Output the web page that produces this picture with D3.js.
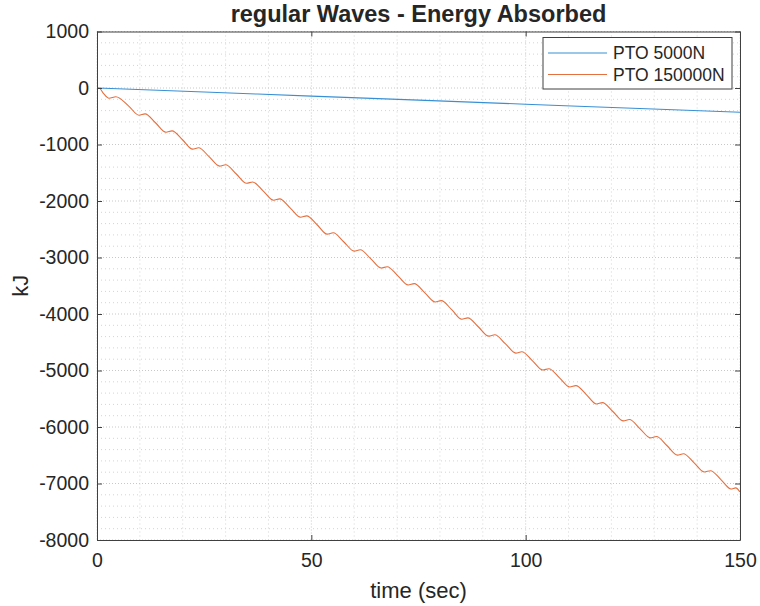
<!DOCTYPE html>
<html>
<head>
<meta charset="utf-8">
<script src="https://cdn.jsdelivr.net/npm/d3@7"></script>
<style>
  body { margin: 0; background: #fff; }
  text { font-family: "Liberation Sans", Arial, sans-serif; fill: #262626; }
</style>
</head>
<body>
<div class="chart"></div>
<script>
// blue series: PTO 5000N  [time, kJ]
const pto5000 = [
  [0, 0], [25, -72], [50, -143], [75, -215], [100, -287], [125, -358], [150, -430]
]

const pto150000 = [
  [0, 0], [0.6, -5], [1.5, -95], [2.8, -182], [4.4, -155], [7.4, -320],
  [9.8, -482], [11.2, -458], [13.7, -620],
  [16.1, -782], [17.5, -758], [20.0, -920],
  [22.3, -1082], [23.7, -1058], [26.2, -1220],
  [28.6, -1382], [30.0, -1358], [32.5, -1522],
  [34.9, -1687], [36.3, -1663], [38.8, -1825],
  [41.2, -1987], [42.6, -1963], [45.1, -2125],
  [47.5, -2287], [48.9, -2263], [51.4, -2425],
  [53.7, -2587], [55.1, -2563], [57.6, -2725],
  [60.0, -2887], [61.4, -2863], [63.9, -3025],
  [66.3, -3187], [67.7, -3163], [70.2, -3325],
  [72.6, -3487], [74.0, -3463], [76.5, -3627],
  [78.9, -3787], [80.3, -3763], [82.8, -3928],
  [85.1, -4092], [86.5, -4068], [89.0, -4230],
  [91.4, -4392], [92.8, -4368], [95.3, -4530],
  [97.7, -4692], [99.1, -4668], [101.6, -4830],
  [104.0, -4992], [105.4, -4968], [107.9, -5130],
  [110.3, -5292], [111.7, -5268], [114.2, -5430],
  [116.5, -5592], [117.9, -5568], [120.4, -5730],
  [122.8, -5892], [124.2, -5868], [126.7, -6032],
  [129.1, -6192], [130.5, -6168], [133.0, -6332],
  [135.4, -6497], [136.8, -6473], [139.3, -6635],
  [141.7, -6797], [143.1, -6773], [145.6, -6935],
  [147.9, -7097], [149.0, -7078], [150, -7150]
]

const seriesNames = ['PTO 5000N', 'PTO 150000N']
const xTicks = [0, 50, 100, 150]
const yTicks = [1000, 0, -1000, -2000, -3000, -4000, -5000, -6000, -7000, -8000]

const width = 760
const height = 606
const margin = {top: 31.5, right: 20, bottom: 66, left: 97}
const colors = ['#3890d4', '#e4703f']

const svg = d3.select('.chart').append('svg')
  .attr('width', width)
  .attr('height', height)

const x = d3.scaleLinear().domain([0, 150]).range([margin.left, width - margin.right])
const y = d3.scaleLinear().domain([-8000, 1000]).range([height - margin.bottom, margin.top])

const g = svg.append('g')

// minor grid
g.selectAll('.gx-minor')
  .data(d3.range(0, 151, 10).filter(d => d % 50 !== 0))
  .enter().append('line')
  .attr('x1', d => x(d)).attr('x2', d => x(d))
  .attr('y1', y(1000)).attr('y2', y(-8000))
  .attr('stroke', '#d4d4d4').attr('stroke-dasharray', '1,3')

g.selectAll('.gy-minor')
  .data(d3.range(-8000, 1001, 200).filter(d => d % 1000 !== 0))
  .enter().append('line')
  .attr('x1', x(0)).attr('x2', x(150))
  .attr('y1', d => y(d)).attr('y2', d => y(d))
  .attr('stroke', '#d4d4d4').attr('stroke-dasharray', '1,3')

// major grid
g.selectAll('.gx')
  .data(xTicks)
  .enter().append('line')
  .attr('x1', d => x(d)).attr('x2', d => x(d))
  .attr('y1', y(1000)).attr('y2', y(-8000))
  .attr('stroke', '#c8c8c8').attr('stroke-dasharray', '1,2')

g.selectAll('.gy')
  .data(yTicks)
  .enter().append('line')
  .attr('x1', x(0)).attr('x2', x(150))
  .attr('y1', d => y(d)).attr('y2', d => y(d))
  .attr('stroke', '#c8c8c8').attr('stroke-dasharray', '1,2')

// lines
const line = d3.line()
  .x(d => x(d[0]))
  .y(d => y(d[1]))
  .curve(d3.curveMonotoneX)

svg.append('path')
  .datum(pto5000)
  .attr('d', line)
  .attr('fill', 'none')
  .attr('stroke', colors[0])
  .attr('stroke-width', 1.1)

svg.append('path')
  .datum(pto150000)
  .attr('d', line)
  .attr('fill', 'none')
  .attr('stroke', colors[1])
  .attr('stroke-width', 1.1)

// axes (ticks inward, box on)
const axisColor = '#404040'
const fmt = d => String(d)
const xAxis = svg.append('g')
  .attr('transform', `translate(0, ${y(-8000)})`)
  .call(d3.axisBottom(x).tickValues(xTicks).tickFormat(fmt).tickSizeInner(-5).tickSizeOuter(0).tickPadding(13))
const xTop = svg.append('g')
  .attr('transform', `translate(0, ${y(1000)})`)
  .call(d3.axisTop(x).tickValues(xTicks).tickSizeInner(-5).tickSizeOuter(0).tickFormat(''))
const yAxis = svg.append('g')
  .attr('transform', `translate(${x(0)}, 0)`)
  .call(d3.axisLeft(y).tickValues(yTicks).tickFormat(fmt).tickSizeInner(-5).tickSizeOuter(0).tickPadding(8))
const yRight = svg.append('g')
  .attr('transform', `translate(${x(150)}, 0)`)
  .call(d3.axisRight(y).tickValues(yTicks).tickSizeInner(-5).tickSizeOuter(0).tickFormat(''))

for (const a of [xAxis, xTop, yAxis, yRight]) {
  a.select('.domain').attr('stroke', axisColor)
  a.selectAll('.tick line').attr('stroke', axisColor)
  a.selectAll('.tick text')
    .attr('font-size', '19.5px')
    .attr('font-family', '"Liberation Sans", Arial, sans-serif')
    .attr('fill', '#262626')
}

// labels
svg.append('text')
  .attr('x', (x(0) + x(150)) / 2)
  .attr('y', 22)
  .attr('text-anchor', 'middle')
  .attr('font-size', '23.5px')
  .attr('font-weight', 'bold')
  .attr('fill', '#000')
  .text('regular Waves - Energy Absorbed')

svg.append('text')
  .attr('x', (x(0) + x(150)) / 2)
  .attr('y', 598)
  .attr('text-anchor', 'middle')
  .attr('font-size', '22px')
  .text('time (sec)')

svg.append('text')
  .attr('transform', `translate(28, ${(y(1000) + y(-8000)) / 2}) rotate(-90)`)
  .attr('text-anchor', 'middle')
  .attr('font-size', '22px')
  .text('kJ')

// legend
const leg = svg.append('g').attr('transform', 'translate(543, 37.5)')
leg.append('rect')
  .attr('width', 189).attr('height', 51.5)
  .attr('fill', '#fff').attr('stroke', axisColor).attr('stroke-width', 1)

leg.selectAll('.item')
  .data(seriesNames)
  .enter().append('g')
  .each(function (d, i) {
    const it = d3.select(this).attr('transform', `translate(0, ${15.5 + i * 21.5})`)
    it.append('line')
      .attr('x1', 5).attr('x2', 64)
      .attr('stroke', colors[i]).attr('stroke-width', 1.1)
    it.append('text')
      .attr('x', 70).attr('y', 6)
      .attr('font-size', '17.5px')
      .text(d)
  })
</script>
</body>
</html>
